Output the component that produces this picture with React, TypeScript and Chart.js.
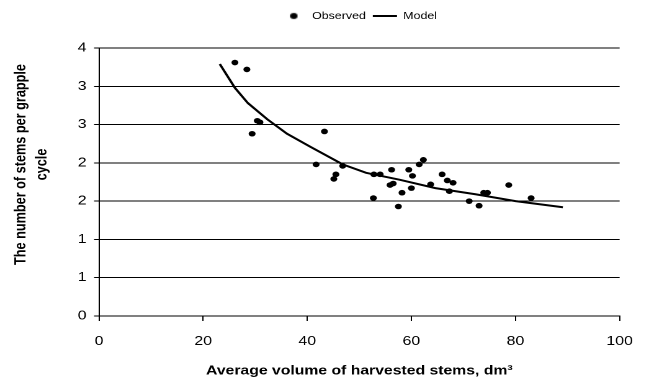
import React, { useEffect, useRef } from "react";
import { Chart, registerables } from "chart.js";

Chart.register(...registerables);

// ---- data ----
const observedX = [26.1, 28.4, 29.4, 30.4, 30.9, 41.7, 43.3, 45.1, 45.5, 46.8, 52.7, 52.8, 54.0, 55.9, 56.2, 56.5, 57.5, 58.2, 59.5, 60.0, 60.2, 61.5, 62.3, 63.7, 65.9, 66.9, 67.3, 68.0, 71.1, 73.0, 73.9, 74.6, 78.7, 83.0];
const observedY = [3.31, 3.22, 2.38, 2.55, 2.53, 1.98, 2.41, 1.79, 1.85, 1.96, 1.54, 1.85, 1.85, 1.71, 1.91, 1.73, 1.43, 1.61, 1.91, 1.67, 1.83, 1.98, 2.04, 1.72, 1.85, 1.77, 1.63, 1.74, 1.50, 1.44, 1.61, 1.61, 1.71, 1.54];

const modelX = [23.2, 26.1, 28.6, 32.3, 36.1, 40.6, 46.8, 51.3, 57.7, 64.6, 72.3, 80.0, 89.1];
const modelY = [3.29, 2.98, 2.78, 2.57, 2.38, 2.21, 1.98, 1.87, 1.78, 1.67, 1.59, 1.50, 1.42];

const xTickValues = [0, 20, 40, 60, 80, 100];
const yTickLabels = ["0", "1", "1", "2", "2", "3", "3", "4"];
const legendLabels = ["Observed", "Model"];
const xTitle = "Average volume of harvested stems, dm\u00B3";
const yTitle = ["The number of stems per grapple", "cycle"];

// ---- layout (chart drawn narrower, then widened like the reference) ----
const W = 523;
const H = 383;
const SX = 649 / W;
const FONT = "'Liberation Sans', Arial, Helvetica, sans-serif";

const layoutTweaks = {
  id: "layoutTweaks",
  beforeLayout(chart: any) {
    const lg = chart.legend;
    if (lg && !lg.__spaced) {
      const orig = lg.fit;
      lg.fit = function () {
        orig.call(this);
        this.height += 17;
      };
      lg.__spaced = true;
    }
  },
  afterLayout(chart: any) {
    const ys = chart.scales && chart.scales.y;
    if (ys && !ys.__titleShift) {
      const orig = ys.drawTitle;
      ys.drawTitle = function () {
        const t = this.top;
        this.top = t - 35;
        try {
          orig.call(this);
        } finally {
          this.top = t;
        }
      };
      ys.__titleShift = true;
    }
  },
};

export default function App() {
  const ref = useRef<HTMLCanvasElement>(null);

  useEffect(() => {
    const canvas = ref.current;
    if (!canvas) return;

    const dot = document.createElement("canvas");
    dot.width = 20;
    dot.height = 8;
    const dctx = dot.getContext("2d");
    if (dctx) {
      dctx.fillStyle = "#000";
      dctx.beginPath();
      dctx.arc(10, 4, 3, 0, Math.PI * 2);
      dctx.fill();
    }

    const chart = new Chart(canvas, {
      type: "scatter",
      data: {
        datasets: [
          {
            type: "scatter",
            label: legendLabels[0],
            data: observedX.map((x, i) => ({ x, y: observedY[i] })),
            pointRadius: 2.8,
            pointHoverRadius: 2.8,
            backgroundColor: "#000",
            borderColor: "#000",
            borderWidth: 0,
            pointStyle: "circle",
          },
          {
            type: "line",
            label: legendLabels[1],
            data: modelX.map((x, i) => ({ x, y: modelY[i] })),
            borderColor: "#000",
            backgroundColor: "#000",
            borderWidth: 2,
            pointRadius: 0,
            pointHoverRadius: 0,
            fill: false,
            tension: 0,
            pointStyle: "line",
          },
        ],
      } as any,
      options: {
        responsive: false,
        maintainAspectRatio: false,
        animation: false,
        devicePixelRatio: 2,
        layout: { padding: { top: 5.4, left: 0, right: 17.7, bottom: 0 } },
        plugins: {
          legend: {
            display: true,
            position: "top",
            align: "center",
            fullSize: false,
            labels: {
              usePointStyle: true,
              pointStyleWidth: 19.5,
              boxHeight: 10,
              padding: 5.6,
              color: "#000",
              font: { family: FONT, size: 10 },
              generateLabels: (c: any) => {
                const items = (Chart.defaults.plugins.legend.labels as any).generateLabels(c);
                if (items[0]) items[0].pointStyle = dot;
                if (items[1]) {
                  items[1].pointStyle = "line";
                  items[1].lineWidth = 2;
                  items[1].strokeStyle = "#000";
                }
                return items;
              },
            },
          },
          tooltip: { enabled: false },
        },
        scales: {
          x: {
            type: "linear",
            position: "bottom",
            min: 0,
            max: 100,
            afterBuildTicks: (s: any) => {
              s.ticks = xTickValues.map((v) => ({ value: v }));
            },
            ticks: {
              color: "#000",
              font: { family: FONT, size: 12.8 },
              padding: 13,
              maxRotation: 0,
            },
            grid: {
              display: true,
              drawOnChartArea: false,
              drawTicks: true,
              tickLength: 5,
              color: "#000",
              lineWidth: 1,
            },
            border: { display: true, color: "#000", width: 1 },
            title: {
              display: true,
              text: xTitle,
              color: "#000",
              font: { family: FONT, size: 12.7, weight: "bold", lineHeight: 1.2 },
              padding: { top: 0, bottom: 4.4 },
            },
            afterFit: (s: any) => {
              s.height = 67;
            },
          },
          y: {
            type: "linear",
            min: 0,
            max: 3.5,
            ticks: {
              stepSize: 0.5,
              color: "#000",
              font: { family: FONT, size: 12.8 },
              padding: 6,
              callback: (_v: any, i: number) => yTickLabels[i],
            },
            grid: {
              color: "#000",
              lineWidth: 1,
              drawTicks: true,
              tickLength: 4,
            },
            border: { display: true, color: "#000", width: 1 },
            title: {
              display: true,
              text: yTitle,
              color: "#000",
              font: { family: FONT, size: 12.7, weight: "bold", lineHeight: 1.34 },
              padding: { top: 8.5, bottom: 0 },
            },
            afterFit: (s: any) => {
              s.width = 79.8;
            },
          },
        },
      } as any,
      plugins: [layoutTweaks],
    });

    return () => chart.destroy();
  }, []);

  return (
    <div
      style={{
        position: "absolute",
        left: 0,
        top: 0,
        width: 649,
        height: H,
        overflow: "hidden",
        background: "#fff",
      }}
    >
      <div style={{ width: W, height: H, transform: `scaleX(${SX})`, transformOrigin: "0 0" }}>
        <canvas ref={ref} style={{ display: "block", width: W, height: H }} />
      </div>
    </div>
  );
}
